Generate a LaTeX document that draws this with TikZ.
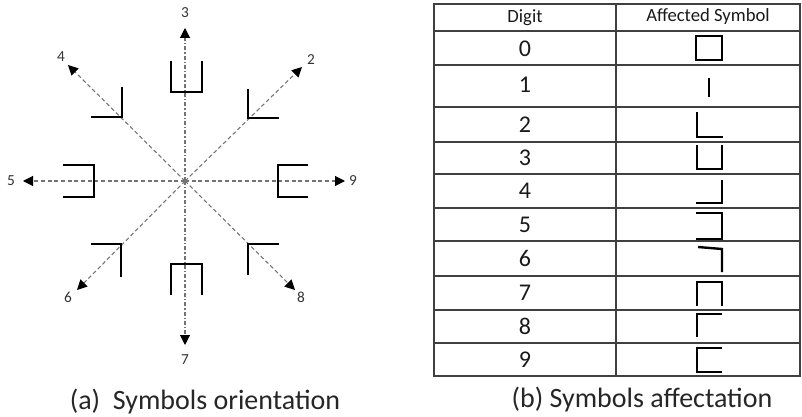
\documentclass[tikz,border=0pt]{standalone}
\usepackage{fontspec}
\setmainfont{Carlito}
\usetikzlibrary{arrows.meta}
\begin{document}
\begin{tikzpicture}[x=0.75pt,y=-0.75pt,
  ray/.style={draw=black!55, line width=0.8pt, dash pattern=on 3pt off 2pt,
    -{Triangle[length=7.5pt,width=7.5pt,color=black]}},
  vray/.style={ray, dash pattern=on 3pt off 1.5pt on 1pt off 1.5pt},
  sym/.style={draw=black, line width=2.2pt, line cap=butt, line join=miter},
  tsym/.style={draw=black, line width=1.8pt, line cap=butt, line join=miter},
  lbl/.style={text=black!80, font=\fontsize{11.5pt}{13pt}\selectfont, inner sep=0pt},
  grid/.style={draw=black!75, line width=1pt},
  cell/.style={font=\fontsize{18pt}{20pt}\selectfont, text=black!90, inner sep=0pt},
  head/.style={font=\fontsize{14pt}{16pt}\selectfont, text=black!90, inner sep=0pt},
  capt/.style={font=\fontsize{21pt}{24pt}\selectfont, text=black!85, inner sep=0pt}]
\useasboundingbox (0,0) rectangle (802,417);
% ---------- (a) orientation ----------
\coordinate (c) at (185,181);
\coordinate (t3) at (185,28);
\coordinate (t7) at (185,345);
\coordinate (t5) at (23,181);
\coordinate (t9) at (345,181);
\coordinate (t4) at (68,65);
\coordinate (t2) at (302,67);
\coordinate (t6) at (77,290);
\coordinate (t8) at (295,290);
\draw[vray] (c) -- (t3);
\draw[vray] (c) -- (t7);
\draw[ray] (c) -- (t5);
\draw[ray] (c) -- (t9);
\draw[ray] (c) -- (t4);
\draw[ray] (c) -- (t2);
\draw[ray] (c) -- (t6);
\draw[ray] (c) -- (t8);
\node[lbl] (l3) at (185,13) {3};
\node[lbl] (l7) at (185,360) {7};
\node[lbl] (l5) at (11,181) {5};
\node[lbl] (l9) at (353,181) {9};
\node[lbl] (l4) at (61,57) {4};
\node[lbl] (l2) at (311,60) {2};
\node[lbl] (l6) at (68,297) {6};
\node[lbl] (l8) at (301,297) {8};
% symbols
\draw[sym] (171,61) -- (171,92) -- (202,92) -- (202,61);   % 3
\draw[sym] (171,295) -- (171,264) -- (202,264) -- (202,295); % 7
\draw[sym] (91,117) -- (122,117) -- (122,87);   % 4
\draw[sym] (248,89) -- (248,118) -- (279,118);  % 2
\draw[sym] (63,165) -- (94,165) -- (94,197) -- (63,197); % 5
\draw[sym] (308,165) -- (278,165) -- (278,197) -- (308,197); % 9
\draw[sym] (91,244) -- (121,244) -- (121,277);  % 6
\draw[sym] (248,275) -- (248,244) -- (279,244); % 8
\node[capt] (capa) at (205,402) {(a)\ \ Symbols orientation};
% ---------- (b) table ----------
\draw[grid] (434,4) rectangle (800,376);
\draw[grid] (616,4) -- (616,376);
\foreach \yy in {31,65,107,142,174,208,241,276,310,343}
  \draw[grid] (434,\yy) -- (800,\yy);
\node[head] (hd) at (525,17.5) {Digit};
\node[head] (hs) at (708,17) {Affected Symbol};
\node[cell] (d0) at (525,49) {0};
\node[cell] (d1) at (525,85) {1};
\node[cell] (d2) at (525,125) {2};
\node[cell] (d3) at (525,158) {3};
\node[cell] (d4) at (525,191) {4};
\node[cell] (d5) at (525,225) {5};
\node[cell] (d6) at (525,258.5) {6};
\node[cell] (d7) at (525,293) {7};
\node[cell] (d8) at (525,326.5) {8};
\node[cell] (d9) at (525,359.5) {9};
\draw[tsym] (696,36) rectangle (722,60);                        % 0
\draw[tsym] (709,78) -- (709,97);                               % 1
\draw[tsym] (697,112) -- (697,137) -- (723,137);                % 2
\draw[tsym] (697,145) -- (697,169) -- (722,169) -- (722,145);   % 3
\draw[tsym] (722,180) -- (722,203) -- (696,203);                % 4
\draw[tsym] (696,213) -- (722,213) -- (722,239) -- (696,239);   % 5
\draw[tsym] (698,247) -- (722,249) -- (722,272);                % 6
\draw[tsym] (697,306) -- (697,282) -- (722,282) -- (722,306);   % 7
\draw[tsym] (697,337) -- (697,314) -- (722,314);                % 8
\draw[tsym] (722,348) -- (697,348) -- (697,372) -- (722,372);   % 9
\node[capt] (capb) at (642,400) {(b) Symbols affectation};
\end{tikzpicture}
\end{document}
